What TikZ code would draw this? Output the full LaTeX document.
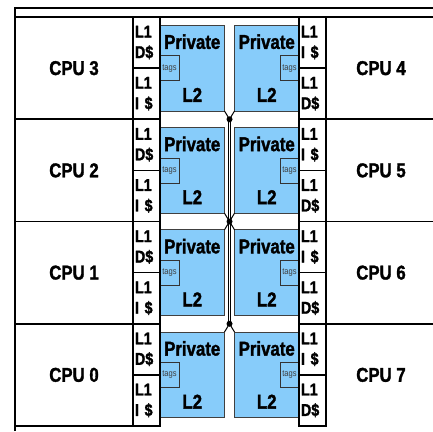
\documentclass[tikz,border=0pt]{standalone}
\usepackage{fontspec}
\setsansfont{Liberation Sans}[FakeStretch=0.84,BoldFeatures={FakeBold=1.5}]
\usepackage{tikz}
\usetikzlibrary{positioning,backgrounds,calc}
\definecolor{ltblue}{RGB}{135,204,250}

\begin{document}
\begin{tikzpicture}[
  x=1pt,y=-1pt,
  font=\sffamily\bfseries,
  cpu/.style={draw,line width=1.6pt,inner sep=0pt,outer sep=0pt,minimum width=118pt,minimum height=102.25pt,
    font=\sffamily\bfseries\fontsize{20}{24}\selectfont},
  rcpu/.style={cpu,minimum width=110pt},
  lone/.style={draw,line width=1.6pt,inner sep=0pt,outer sep=0pt,minimum width=27pt,minimum height=51.125pt,
    text width=23pt,align=left,font=\sffamily\bfseries\fontsize{17}{20.5}\selectfont},
  ltwo/.style={draw=black!75,line width=0.8pt,fill=ltblue,inner sep=0pt,outer sep=0pt,minimum width=64.5pt,
    minimum height=85.75pt,align=center,font=\sffamily\bfseries\fontsize{20}{24}\selectfont},
  tagbox/.style={draw=black!80,line width=0.6pt,fill=ltblue,inner sep=0pt,outer sep=0pt,minimum width=19pt,
    minimum height=25pt,text=black!75,font=\sffamily\mdseries\fontsize{9}{10}\selectfont},
  frame/.style={line width=1.8pt},
  link/.style={line width=1pt},
  bus/.style={line width=0.7pt,double,double distance=1.2pt},
]
\useasboundingbox (0,0) rectangle (433,431);
% outer frame
\draw[frame] (15,431) -- (15,8) -- (433,8);
\draw[frame] (15,17) -- (433,17);
% left cpus
\node[cpu] (cpu3) at (74,68.125) {CPU 3};
\node[cpu,below=0pt of cpu3] (cpu2) {CPU 2};
\node[cpu,below=0pt of cpu2] (cpu1) {CPU 1};
\node[cpu,below=0pt of cpu1] (cpu0) {CPU 0};
% left L1 caches
\node[lone,anchor=north west] (d3) at (cpu3.north east) {L1\\D\$};
\node[lone,below=0pt of d3] (i3) {L1\\I \$};
\node[lone,anchor=north west] (d2) at (cpu2.north east) {L1\\D\$};
\node[lone,below=0pt of d2] (i2) {L1\\I \$};
\node[lone,anchor=north west] (d1) at (cpu1.north east) {L1\\D\$};
\node[lone,below=0pt of d1] (i1) {L1\\I \$};
\node[lone,anchor=north west] (d0) at (cpu0.north east) {L1\\D\$};
\node[lone,below=0pt of d0] (i0) {L1\\I \$};
% private L2s
\begin{scope}[on background layer]
  \node[ltwo,anchor=west] (l2c3) at (cpu3.center -| d3.east) {Private\\[29pt]L2};
  \node[ltwo,anchor=west] (l2c2) at (cpu2.center -| d2.east) {Private\\[29pt]L2};
  \node[ltwo,anchor=west] (l2c1) at (cpu1.center -| d1.east) {Private\\[29pt]L2};
  \node[ltwo,anchor=west] (l2c0) at (cpu0.center -| d0.east) {Private\\[29pt]L2};
  \node[ltwo,right=10pt of l2c3] (l2c4) {Private\\[29pt]L2};
  \node[ltwo,right=10pt of l2c2] (l2c5) {Private\\[29pt]L2};
  \node[ltwo,right=10pt of l2c1] (l2c6) {Private\\[29pt]L2};
  \node[ltwo,right=10pt of l2c0] (l2c7) {Private\\[29pt]L2};
  \node[tagbox,anchor=west] (t3) at (l2c3.west) {tags};
  \node[tagbox,anchor=west] (t2) at (l2c2.west) {tags};
  \node[tagbox,anchor=west] (t1) at (l2c1.west) {tags};
  \node[tagbox,anchor=west] (t0) at (l2c0.west) {tags};
  \node[tagbox,anchor=east] (t4) at (l2c4.east) {tags};
  \node[tagbox,anchor=east] (t5) at (l2c5.east) {tags};
  \node[tagbox,anchor=east] (t6) at (l2c6.east) {tags};
  \node[tagbox,anchor=east] (t7) at (l2c7.east) {tags};
\end{scope}
% right L1 caches
\node[lone,anchor=north west] (i4) at (cpu3.north -| l2c4.east) {L1\\I \$};
\node[lone,below=0pt of i4] (d4) {L1\\D\$};
\node[lone,below=0pt of d4] (i5) {L1\\I \$};
\node[lone,below=0pt of i5] (d5) {L1\\D\$};
\node[lone,below=0pt of d5] (i6) {L1\\I \$};
\node[lone,below=0pt of i6] (d6) {L1\\D\$};
\node[lone,below=0pt of d6] (i7) {L1\\I \$};
\node[lone,below=0pt of i7] (d7) {L1\\D\$};
% right cpus
\node[rcpu,anchor=north west] (cpu4) at (i4.north east) {CPU 4};
\node[rcpu,below=0pt of cpu4] (cpu5) {CPU 5};
\node[rcpu,below=0pt of cpu5] (cpu6) {CPU 6};
\node[rcpu,below=0pt of cpu6,draw=none] (cpu7) {CPU 7};
% interconnect
\coordinate (j1) at ($(i3.south east)!0.5!(d4.south west)$);
\coordinate (j2) at ($(i2.south east)!0.5!(d5.south west)$);
\coordinate (j3) at ($(i1.south east)!0.5!(d6.south west)$);
\draw[bus] (j1) -- (j3);
\draw[link] (l2c3.south east) -- (j1) -- (l2c4.south west);
\draw[link] (l2c2.south east) -- (j2) -- (l2c5.south west);
\draw[link] (l2c1.north east) -- (j2) -- (l2c6.north west);
\draw[link] (l2c0.north east) -- (j3) -- (l2c7.north west);
\fill (j1) circle (3pt);
\fill (j2) circle (3pt);
\fill (j3) circle (3pt);
\end{tikzpicture}
\end{document}
